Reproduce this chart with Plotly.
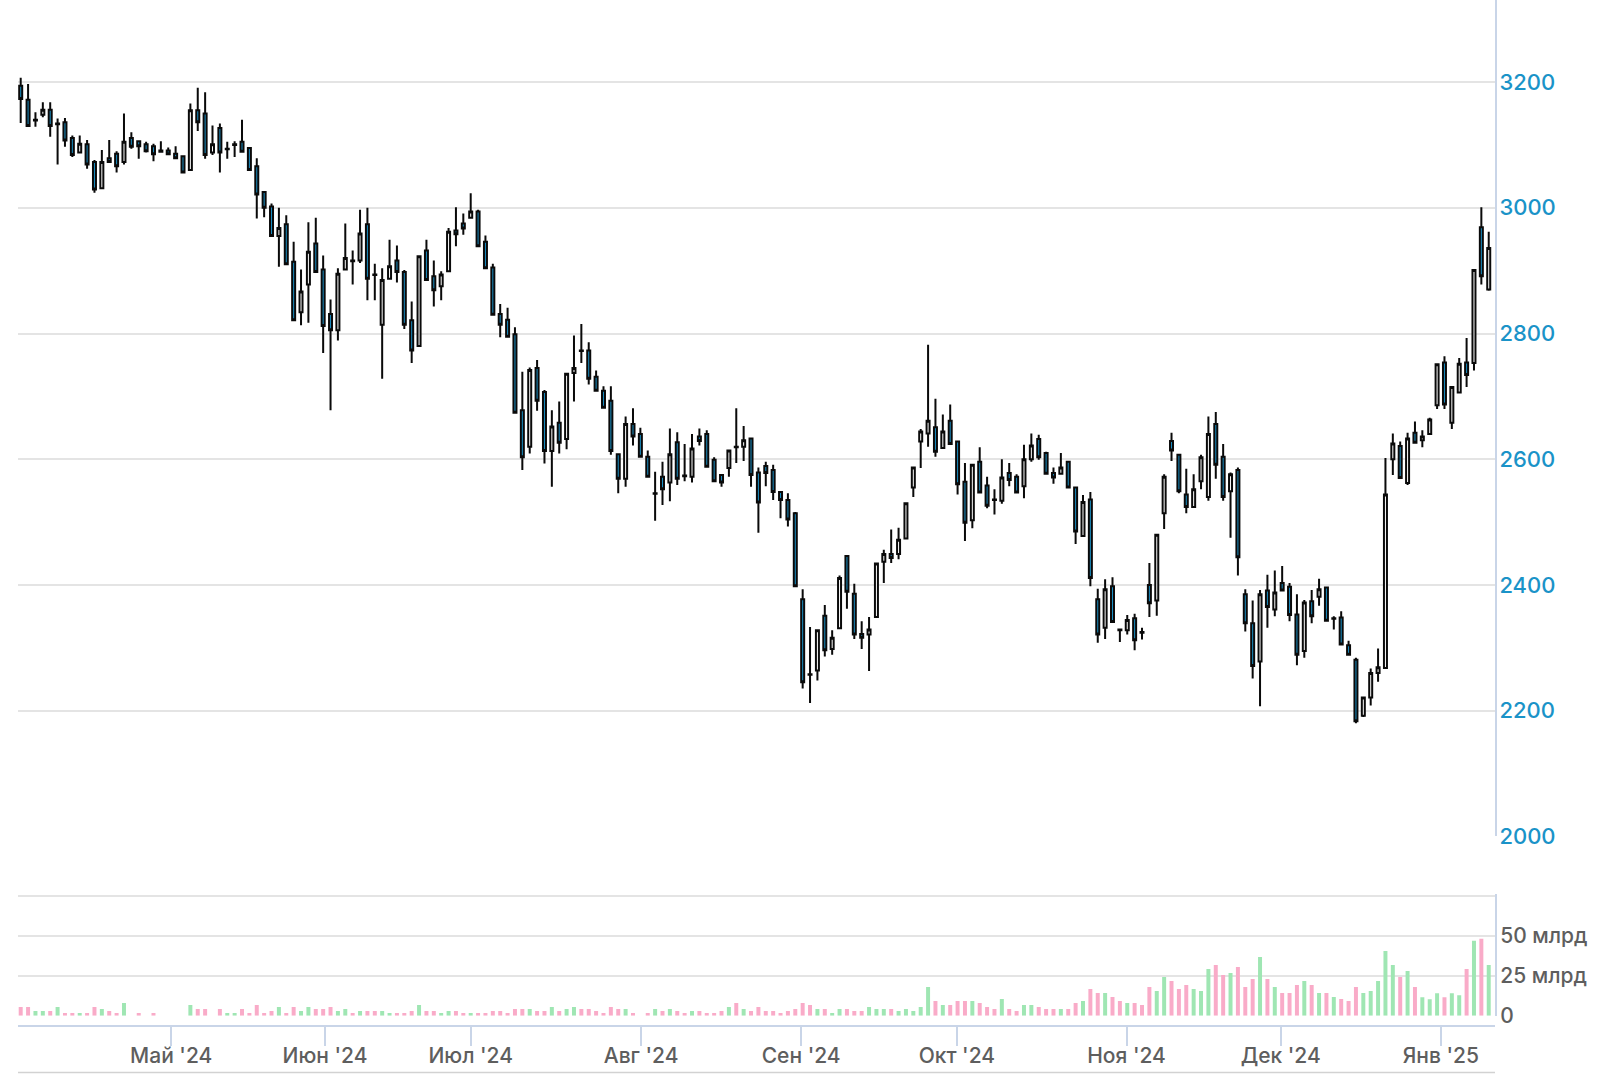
import plotly.graph_objects as go

# дневные свечи (цена) и объём торгов (млрд)
opens = [3194, 3172, 3139, 3148, 3156, 3133, 3136, 3111, 3088, 3101,
         3073, 3031, 3079, 3086, 3073, 3111, 3106, 3101, 3098, 3091,
         3091, 3086, 3082, 3060, 3155, 3150, 3088, 3127, 3093, 3100,
         3105, 3095, 3066, 3025, 3002, 2955, 2974, 2914, 2834, 2878,
         2943, 2902, 2831, 2805, 2902, 2916, 2916, 2974, 2894, 2814,
         2887, 2916, 2898, 2821, 2780, 2932, 2891, 2875, 2899, 2964,
         2975, 2984, 2994, 2946, 2905, 2831, 2822, 2799, 2678, 2620,
         2745, 2707, 2613, 2658, 2632, 2737, 2773, 2773, 2731, 2709,
         2693, 2608, 2569, 2656, 2640, 2604, 2545, 2572, 2563, 2627,
         2574, 2572, 2636, 2640, 2599, 2575, 2586, 2620, 2620, 2633,
         2579, 2589, 2583, 2548, 2535, 2514, 2377, 2258, 2264, 2351,
         2298, 2331, 2446, 2386, 2322, 2321, 2349, 2437, 2449, 2449,
         2474, 2555, 2628, 2641, 2651, 2618, 2661, 2628, 2564, 2503,
         2596, 2558, 2536, 2534, 2578, 2572, 2557, 2600, 2632, 2610,
         2578, 2577, 2596, 2555, 2478, 2536, 2377, 2332, 2398, 2329,
         2328, 2347, 2325, 2400, 2375, 2514, 2629, 2607, 2544, 2524,
         2565, 2540, 2656, 2604, 2549, 2583, 2385, 2339, 2278, 2391,
         2361, 2403, 2397, 2353, 2295, 2374, 2381, 2396, 2346, 2348,
         2304, 2281, 2192, 2221, 2260, 2268, 2600, 2621, 2562, 2642,
         2630, 2640, 2686, 2754, 2658, 2706, 2754, 2753, 2969, 2870]

highs = [3207, 3197, 3152, 3168, 3168, 3142, 3143, 3115, 3115, 3108,
         3076, 3092, 3108, 3090, 3150, 3120, 3107, 3105, 3102, 3106,
         3096, 3098, 3083, 3166, 3191, 3184, 3131, 3134, 3105, 3106,
         3140, 3095, 3079, 3025, 3007, 3000, 2988, 2946, 2902, 2977,
         2984, 2924, 2854, 2904, 2975, 2932, 2997, 3000, 2911, 2904,
         2949, 2940, 2901, 2851, 2923, 2949, 2916, 2899, 2968, 3001,
         2991, 3023, 2997, 2956, 2911, 2847, 2841, 2810, 2739, 2746,
         2758, 2710, 2678, 2692, 2736, 2797, 2815, 2786, 2741, 2716,
         2716, 2608, 2668, 2681, 2650, 2614, 2580, 2596, 2649, 2643,
         2624, 2640, 2649, 2646, 2603, 2575, 2614, 2681, 2653, 2633,
         2587, 2596, 2591, 2548, 2546, 2516, 2393, 2333, 2328, 2368,
         2328, 2415, 2446, 2402, 2342, 2349, 2434, 2456, 2488, 2491,
         2530, 2587, 2648, 2782, 2696, 2671, 2687, 2628, 2594, 2591,
         2619, 2572, 2552, 2600, 2594, 2576, 2623, 2641, 2639, 2612,
         2587, 2610, 2596, 2555, 2543, 2548, 2394, 2409, 2412, 2329,
         2352, 2354, 2332, 2435, 2480, 2576, 2642, 2607, 2585, 2576,
         2607, 2668, 2675, 2624, 2579, 2587, 2393, 2375, 2392, 2416,
         2423, 2430, 2403, 2385, 2376, 2392, 2410, 2396, 2350, 2358,
         2311, 2284, 2221, 2267, 2299, 2602, 2641, 2628, 2642, 2660,
         2646, 2666, 2751, 2764, 2716, 2761, 2793, 2901, 3001, 2962]

lows = [3135, 3129, 3129, 3144, 3113, 3069, 3097, 3081, 3088, 3062,
        3024, 3031, 3073, 3056, 3069, 3094, 3078, 3088, 3074, 3089,
        3085, 3078, 3056, 3060, 3122, 3078, 3084, 3056, 3078, 3081,
        3089, 3060, 2983, 2985, 2955, 2906, 2910, 2821, 2813, 2817,
        2898, 2769, 2678, 2789, 2902, 2878, 2912, 2853, 2853, 2728,
        2887, 2881, 2807, 2753, 2780, 2885, 2843, 2853, 2898, 2939,
        2957, 2984, 2939, 2904, 2830, 2794, 2795, 2674, 2583, 2609,
        2677, 2593, 2556, 2609, 2616, 2692, 2753, 2719, 2709, 2681,
        2607, 2546, 2556, 2622, 2604, 2572, 2502, 2527, 2533, 2559,
        2565, 2563, 2622, 2588, 2565, 2556, 2572, 2594, 2597, 2556,
        2483, 2557, 2535, 2506, 2493, 2398, 2235, 2212, 2248, 2286,
        2289, 2331, 2362, 2314, 2298, 2263, 2348, 2403, 2435, 2441,
        2474, 2540, 2586, 2620, 2604, 2618, 2624, 2544, 2470, 2490,
        2547, 2522, 2512, 2529, 2557, 2547, 2538, 2596, 2599, 2577,
        2561, 2577, 2555, 2465, 2478, 2398, 2308, 2314, 2341, 2309,
        2321, 2296, 2313, 2349, 2351, 2489, 2597, 2546, 2514, 2524,
        2552, 2534, 2569, 2534, 2475, 2415, 2326, 2251, 2207, 2332,
        2350, 2391, 2342, 2272, 2284, 2339, 2367, 2343, 2329, 2305,
        2289, 2180, 2190, 2208, 2246, 2268, 2575, 2570, 2559, 2626,
        2619, 2640, 2680, 2680, 2648, 2706, 2715, 2741, 2878, 2868]

closes = [3173, 3130, 3140, 3156, 3130, 3134, 3107, 3084, 3102, 3069,
          3029, 3073, 3073, 3066, 3105, 3097, 3098, 3090, 3085, 3089,
          3085, 3079, 3056, 3155, 3136, 3084, 3101, 3088, 3094, 3101,
          3089, 3060, 3021, 3000, 2955, 2968, 2910, 2821, 2867, 2930,
          2898, 2812, 2805, 2895, 2920, 2915, 2959, 2887, 2893, 2885,
          2907, 2898, 2814, 2773, 2923, 2885, 2869, 2894, 2962, 2958,
          2967, 2994, 2939, 2904, 2830, 2814, 2795, 2674, 2603, 2742,
          2693, 2613, 2652, 2626, 2736, 2745, 2772, 2728, 2709, 2682,
          2613, 2569, 2656, 2636, 2604, 2572, 2546, 2552, 2608, 2569,
          2573, 2617, 2629, 2588, 2565, 2563, 2614, 2619, 2630, 2575,
          2531, 2578, 2548, 2535, 2504, 2398, 2245, 2257, 2328, 2296,
          2316, 2411, 2389, 2321, 2316, 2329, 2434, 2449, 2443, 2472,
          2530, 2587, 2644, 2661, 2612, 2644, 2624, 2560, 2499, 2591,
          2547, 2526, 2535, 2571, 2567, 2547, 2600, 2622, 2603, 2577,
          2571, 2587, 2555, 2485, 2532, 2411, 2321, 2393, 2341, 2328,
          2344, 2312, 2324, 2371, 2480, 2572, 2614, 2549, 2524, 2552,
          2603, 2640, 2591, 2540, 2576, 2444, 2339, 2271, 2385, 2365,
          2388, 2391, 2352, 2289, 2372, 2350, 2393, 2343, 2347, 2305,
          2289, 2183, 2221, 2260, 2269, 2544, 2625, 2570, 2633, 2626,
          2636, 2663, 2751, 2687, 2715, 2752, 2734, 2901, 2891, 2936]

volumes = [5.4, 5.4, 2.9, 2.9, 2.9, 5.4, 1.7, 1.7, 1.7, 1.7,
           5.4, 4.2, 2.9, 1.7, 7.9, 0, 1.7, 0, 1.7, 0,
           0, 0, 0, 6.7, 4.2, 4.2, 0, 4.2, 1.7, 1.7,
           4.2, 1.7, 6.7, 1.7, 2.9, 5.4, 1.7, 5.4, 2.9, 5.4,
           4.2, 4.2, 5.4, 2.9, 4.2, 1.7, 2.9, 2.9, 2.9, 2.9,
           1.7, 1.7, 1.7, 2.9, 6.7, 2.9, 2.9, 1.7, 2.9, 2.9,
           1.7, 1.7, 1.7, 1.7, 2.9, 2.9, 1.7, 4.2, 4.2, 4.2,
           2.9, 2.9, 5.4, 2.9, 4.2, 5.4, 4.2, 4.2, 2.9, 1.7,
           5.4, 4.2, 4.2, 1.7, 0, 1.7, 4.2, 2.9, 4.2, 2.9,
           1.7, 2.9, 2.9, 1.7, 1.7, 2.9, 5.4, 7.9, 4.2, 2.9,
           5.4, 2.9, 2.9, 1.7, 2.9, 4.2, 7.9, 6.7, 4.2, 4.2,
           1.7, 4.2, 4.2, 2.9, 2.9, 5.4, 4.2, 4.2, 4.2, 2.9,
           4.2, 2.9, 5.4, 17.9, 9.2, 6.7, 6.7, 9.2, 9.2, 9.2,
           7.9, 5.4, 4.2, 10.4, 4.2, 2.9, 6.7, 6.7, 5.4, 4.2,
           4.2, 4.2, 4.2, 7.9, 9.2, 16.7, 14.2, 14.2, 11.7, 9.2,
           7.9, 7.9, 6.7, 17.9, 15.4, 24.2, 21.7, 16.7, 19.2, 16.7,
           15.4, 29.2, 31.7, 25.4, 26.7, 30.4, 17.9, 22.9, 36.7, 22.9,
           17.9, 14.2, 14.2, 19.2, 21.7, 19.2, 14.2, 14.2, 11.7, 10.4,
           9.2, 17.9, 14.2, 15.4, 21.7, 40.4, 31.7, 24.2, 27.9, 17.9,
           11.6, 10.3, 14.1, 11.6, 14.1, 12.8, 29.2, 46.8, 48.1, 31.7]

# подписи месяцев и их положение на шкале торговых дней
month_labels = ["Май '24", "Июн '24", "Июл '24", "Авг '24", "Сен '24",
                "Окт '24", "Ноя '24", "Дек '24", "Янв '25"]
month_pos = [20.4, 41.25, 61.0, 84.1, 105.8, 126.9, 149.9, 170.8, 192.5]

price_ticks = [2000, 2200, 2400, 2600, 2800, 3000, 3200]
vol_ticks = [0, 25, 50, 75]
vol_ticktext = ["0", "25 млрд", "50 млрд", ""]

days = list(range(len(closes)))

AXIS_BLUE = "#c9d5e8"
GRID = "#e4e4e4"
FONT = "Inter, Roboto, Arial, sans-serif"

vol_colors = ["#9fe6b3" if c >= o else "#f9abc8" for o, c in zip(opens, closes)]

fig = go.Figure()

fig.add_trace(go.Candlestick(
    x=days, open=opens, high=highs, low=lows, close=closes,
    increasing=dict(fillcolor="#ffffff", line=dict(color="#0a0a0a", width=2)),
    decreasing=dict(fillcolor="#1a8fc4", line=dict(color="#0a0a0a", width=2)),
    whiskerwidth=0,
    xaxis="x", yaxis="y",
    showlegend=False,
))

fig.add_trace(go.Bar(
    x=days, y=volumes,
    marker=dict(color=vol_colors, line=dict(width=0)),
    width=0.54,
    xaxis="x2", yaxis="y2",
    showlegend=False,
))

fig.update_layout(
    width=1598, height=1074,
    margin=dict(l=18, r=103, t=0, b=0),
    paper_bgcolor="white", plot_bgcolor="white",
    boxgap=0.42,
    font=dict(family=FONT),
    xaxis=dict(
        domain=[0, 1], range=[-0.366, 199.85], anchor="y", automargin=False,
        showticklabels=False, showgrid=False, zeroline=False, showline=False,
        rangeslider=dict(visible=False),
    ),
    xaxis2=dict(
        domain=[0, 1], matches="x", anchor="free", position=0.045, automargin=False,
        showgrid=False, zeroline=False,
        showline=True, linecolor=AXIS_BLUE, linewidth=2,
        ticks="outside", ticklen=19, tickwidth=2, tickcolor=AXIS_BLUE,
        tickvals=month_pos, ticktext=month_labels,
        tickfont=dict(size=21, color="#5e5e5e", family=FONT, weight=500),
        ticklabelstandoff=-8,
    ),
    yaxis=dict(
        domain=[0.2213, 1], range=[2000, 3330.6], side="right", automargin=False,
        tickvals=price_ticks,
        showgrid=True, gridcolor=GRID, gridwidth=1.6, zeroline=False,
        showline=True, linecolor=AXIS_BLUE, linewidth=2,
        ticks="", tickfont=dict(size=22, color="#1a93c8", family=FONT, weight=500),
        ticklabelstandoff=-2,
    ),
    yaxis2=dict(
        domain=[0.0543, 0.1676], range=[0, 76.06], side="right", anchor="x2",
        automargin=False,
        tickvals=vol_ticks, ticktext=vol_ticktext,
        showgrid=True, gridcolor=GRID, gridwidth=1.6, zeroline=False,
        showline=True, linecolor=AXIS_BLUE, linewidth=2,
        ticks="", tickfont=dict(size=21, color="#5e5e5e", family=FONT, weight=500),
        ticklabelstandoff=-1,
    ),
    shapes=[dict(type="line", xref="paper", yref="paper", x0=0, x1=1,
                 y0=0.0013, y1=0.0013, line=dict(color="#d2d2d2", width=1.5))],
)

# убираем стандартный отступ страницы, чтобы график стоял в углу окна
fig.write_html("out.html", config={"displayModeBar": False},
               post_script="document.body.style.margin='0';")
